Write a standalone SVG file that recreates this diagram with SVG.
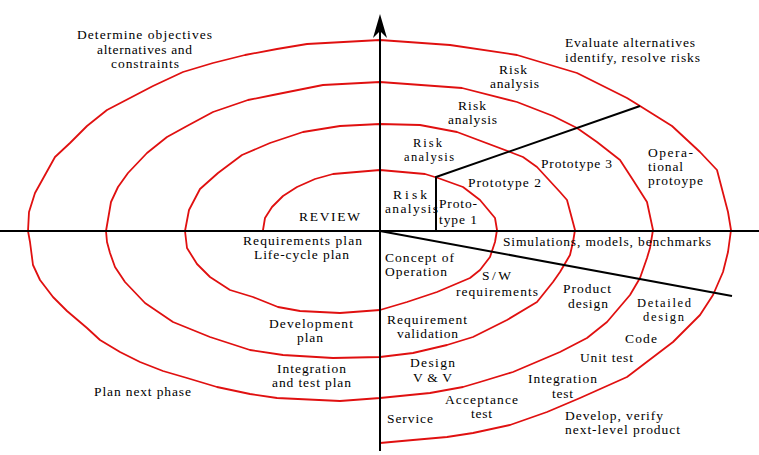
<svg xmlns="http://www.w3.org/2000/svg" width="759" height="455" viewBox="0 0 759 455">
<style>
.ax{stroke:#000;stroke-width:2;fill:none}
.sp{stroke:#e01010;stroke-width:1.8;fill:none;stroke-linejoin:round}
text{font-family:"Liberation Serif","Times New Roman",serif;font-size:13.5px;fill:#000}
text.t{font-size:12.5px}
</style>
<rect width="759" height="455" fill="#fff"/>
<g id="connectors">
<path id="spiral" class="sp" d="M263,232 L263,230 265,218 272,207 283,196 297,187 315,179 333,174 380,170 425,174 438,178 463,187 480,200 495,218 497,230 495,242 490,257 480,270 470,278 437,292 407,302 380,310 340,313 300,311 278,307 253,297 230,290 210,277 197,264 187,248 185,231 189,210 200,189 218,173 242,155 270,143 303,132 340,126 380,124 420,125 457,132 510,152 523,157 537,167 560,192 567,200 575,230 573,242 570,255 560,272 553,282 537,302 507,320 473,337 447,345 413,353 380,357 333,358 283,355 250,350 210,337 173,322 145,303 125,282 115,267 110,253 107,242 106,231 111,202 118,187 128,173 147,153 167,137 187,126 213,112 248,100 273,95 323,85 380,82 462,88 517,102 553,116 577,128 597,142 620,160 633,180 647,202 653,230 650,248 647,258 640,278 630,295 607,322 587,338 560,352 513,372 480,382 463,387 430,393 380,398 340,401 277,398 250,394 217,387 187,378 163,371 140,362 120,352 100,340 87,328 67,311 53,297 40,280 33,265 30,242 28,231 29,212 35,193 55,157 70,143 87,126 107,110 130,98 153,86 183,72 213,63 245,55 277,49 307,44 380,40 450,45 517,55 577,73 627,98 640,106 672,126 700,152 717,170 728,212 731,230 728,252 723,272 713,295 700,315 673,342 627,377 580,398 547,412 510,425 473,433 447,437 413,440 380,443"/>
<line class="ax" x1="0" y1="231" x2="759" y2="231" stroke-width="1.6"/>
<line class="ax" x1="380" y1="30" x2="380" y2="451"/>
<polygon points="380,14 387,38 380,31 373,38" fill="#000"/>
<line class="ax" x1="380" y1="231" x2="732" y2="296"/>
<polyline class="ax" points="436,231 436,177 640,106"/>
</g>
<g id="q1-objectives">
<text x="77" y="39" textLength="135" lengthAdjust="spacing">Determine objectives</text>
<text x="97" y="54" textLength="95" lengthAdjust="spacing">alternatives and</text>
<text x="111" y="68" textLength="68" lengthAdjust="spacing">constraints</text>
<text x="299" y="221" textLength="61" lengthAdjust="spacing">REVIEW</text>
</g>
<g id="q2-risks">
<text x="565" y="47" textLength="130" lengthAdjust="spacing">Evaluate alternatives</text>
<text x="565" y="62" textLength="135" lengthAdjust="spacing">identify, resolve risks</text>
<text x="499" y="74" textLength="28" lengthAdjust="spacing">Risk</text>
<text x="490" y="88" textLength="49" lengthAdjust="spacing">analysis</text>
<text x="458" y="110" textLength="28" lengthAdjust="spacing">Risk</text>
<text x="448" y="124" textLength="49" lengthAdjust="spacing">analysis</text>
<text class="t" x="413" y="146.5" textLength="29" lengthAdjust="spacing">Risk</text>
<text class="t" x="404" y="160.5" textLength="50" lengthAdjust="spacing">analysis</text>
<text x="393" y="199" textLength="34" lengthAdjust="spacing">Risk</text>
<text x="385" y="213" textLength="53" lengthAdjust="spacing">analysis</text>
<text x="439" y="208" textLength="38" lengthAdjust="spacing">Proto-</text>
<text x="439" y="224" textLength="38" lengthAdjust="spacing">type 1</text>
<text x="468" y="187" textLength="73" lengthAdjust="spacing">Prototype 2</text>
<text x="541" y="168" textLength="71" lengthAdjust="spacing">Prototype 3</text>
<text x="648" y="157" textLength="45" lengthAdjust="spacing">Opera-</text>
<text x="648" y="171" textLength="35" lengthAdjust="spacing">tional</text>
<text x="648" y="185" textLength="55" lengthAdjust="spacing">protoype</text>
</g>
<g id="q3-plan">
<text x="243" y="245" textLength="119" lengthAdjust="spacing">Requirements plan</text>
<text x="254" y="259" textLength="95" lengthAdjust="spacing">Life-cycle plan</text>
<text x="269" y="328" textLength="84" lengthAdjust="spacing">Development</text>
<text x="297" y="342" textLength="26" lengthAdjust="spacing">plan</text>
<text x="277" y="373" textLength="69" lengthAdjust="spacing">Integration</text>
<text x="272" y="387" textLength="79" lengthAdjust="spacing">and test plan</text>
<text x="94" y="396" textLength="97" lengthAdjust="spacing">Plan next phase</text>
</g>
<g id="q4-develop">
<text x="503" y="246" textLength="208" lengthAdjust="spacing">Simulations, models, benchmarks</text>
<text x="385" y="262" textLength="69" lengthAdjust="spacing">Concept of</text>
<text x="385" y="276" textLength="62" lengthAdjust="spacing">Operation</text>
<text x="482" y="280" textLength="29" lengthAdjust="spacing">S/W</text>
<text x="456" y="296" textLength="82" lengthAdjust="spacing">requirements</text>
<text x="563" y="293" textLength="48" lengthAdjust="spacing">Product</text>
<text x="568" y="308" textLength="40" lengthAdjust="spacing">design</text>
<text class="t" x="637" y="306.5" textLength="54" lengthAdjust="spacing">Detailed</text>
<text class="t" x="643" y="320.5" textLength="41" lengthAdjust="spacing">design</text>
<text x="387" y="324" textLength="80" lengthAdjust="spacing">Requirement</text>
<text x="397" y="338" textLength="61" lengthAdjust="spacing">validation</text>
<text x="625" y="343" textLength="32" lengthAdjust="spacing">Code</text>
<text x="580" y="362" textLength="53" lengthAdjust="spacing">Unit test</text>
<text x="410" y="367" textLength="45" lengthAdjust="spacing">Design</text>
<text x="413" y="382" textLength="39" lengthAdjust="spacing">V&amp;V</text>
<text x="528" y="383" textLength="69" lengthAdjust="spacing">Integration</text>
<text x="552" y="398" textLength="21" lengthAdjust="spacing">test</text>
<text x="445" y="404" textLength="73" lengthAdjust="spacing">Acceptance</text>
<text x="471" y="418" textLength="21" lengthAdjust="spacing">test</text>
<text x="387" y="423" textLength="46" lengthAdjust="spacing">Service</text>
<text x="565" y="420" textLength="98" lengthAdjust="spacing">Develop, verify</text>
<text x="565" y="434" textLength="115" lengthAdjust="spacing">next-level product</text>
</g>
</svg>
